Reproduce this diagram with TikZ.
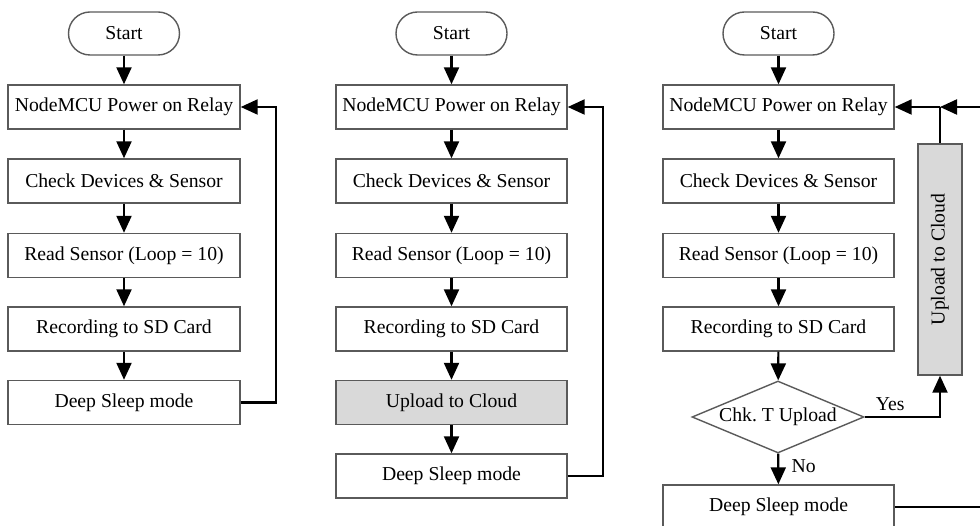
\documentclass[tikz,border=0pt]{standalone}
\usepackage{fontspec}
\setmainfont{Liberation Serif}
\usetikzlibrary{arrows.meta,shapes.geometric}
\definecolor{boxgray}{HTML}{5A5A5A}
\definecolor{fillgray}{HTML}{D9D9D9}
\begin{document}
\begin{tikzpicture}[x=1pt,y=-1pt,
  txt/.style={font=\fontsize{19.7}{24}\selectfont},
  box/.style={txt,draw=boxgray,line width=1.4pt,minimum width=231pt,minimum height=44pt,inner sep=0pt},
  graybox/.style={box,fill=fillgray},
  term/.style={txt,draw=boxgray,line width=1.4pt,minimum width=111pt,minimum height=43pt,inner sep=0pt,rounded corners=21.5pt},
  decision/.style={txt,draw=boxgray,line width=1.4pt,diamond,aspect=2.39,minimum width=172pt,minimum height=72pt,inner sep=0pt},
  conn/.style={line width=2.2pt,-{Triangle[length=17pt,width=15pt]}},
  plain/.style={line width=2.2pt}]
\useasboundingbox (0,0) rectangle (980,526);
\clip (0,0) rectangle (980,526);
% Panel 1
\node[term] (S1) at (124,33.5) {Start};
\node[box,minimum width=232pt] (N1) at (124,107) {NodeMCU Power on Relay};
\node[box,minimum width=232pt] (C1) at (124,181) {Check Devices \& Sensor};
\node[box,minimum width=232pt] (R1) at (124,255.5) {Read Sensor (Loop = 10)};
\node[box,minimum width=232pt] (W1) at (124,329) {Recording to SD Card};
\node[box,minimum width=232pt] (D1) at (124,402.5) {Deep Sleep mode};
\draw[conn] (S1) -- (N1);
\draw[conn] (N1) -- (C1);
\draw[conn] (C1) -- (R1);
\draw[conn] (R1) -- (W1);
\draw[conn] (W1) -- (D1);
\draw[conn] (D1.east) -- ++(35,0) |- (N1.east);
% Panel 2
\node[term] (S2) at (451.5,33.5) {Start};
\node[box] (N2) at (451.5,107) {NodeMCU Power on Relay};
\node[box] (C2) at (451.5,181) {Check Devices \& Sensor};
\node[box] (R2) at (451.5,255.5) {Read Sensor (Loop = 10)};
\node[box] (W2) at (451.5,329) {Recording to SD Card};
\node[graybox] (U2) at (451.5,402.5) {Upload to Cloud};
\node[box] (D2) at (451.5,476) {Deep Sleep mode};
\draw[conn] (S2) -- (N2);
\draw[conn] (N2) -- (C2);
\draw[conn] (C2) -- (R2);
\draw[conn] (R2) -- (W2);
\draw[conn] (W2) -- (U2);
\draw[conn] (U2) -- (D2);
\draw[conn] (D2.east) -- ++(35,0) |- (N2.east);
% Panel 3
\node[term] (S3) at (778.5,33.5) {Start};
\node[box] (N3) at (778.5,107) {NodeMCU Power on Relay};
\node[box] (C3) at (778.5,181) {Check Devices \& Sensor};
\node[box] (R3) at (778.5,255.5) {Read Sensor (Loop = 10)};
\node[box] (W3) at (778.5,329) {Recording to SD Card};
\node[decision] (K3) at (778,417) {Chk.\ T Upload};
\node[box] (D3) at (778.5,507) {Deep Sleep mode};
\node[graybox,rotate=90] (U3) at (940,259.5) {Upload to Cloud};
\coordinate (J3) at (940,107);
\coordinate (E3a) at (995,107);
\coordinate (E3b) at (995,507);
\draw[conn] (S3) -- (N3);
\draw[conn] (N3) -- (C3);
\draw[conn] (C3) -- (R3);
\draw[conn] (R3) -- (W3);
\draw[conn] (W3) -- (K3);
\draw[conn] (K3) -- node[txt,right=9pt,pos=0.4] {No} (D3);
\draw[conn] (K3.east) -| node[txt,above=2pt,pos=0.17] {Yes} (U3.west);
\draw[plain] (U3.east) -- (J3);
\draw[conn] (E3a) -- (J3);
\draw[conn] (J3) -- (N3.east);
\draw[plain] (D3.east) -- (E3b);
\end{tikzpicture}
\end{document}
